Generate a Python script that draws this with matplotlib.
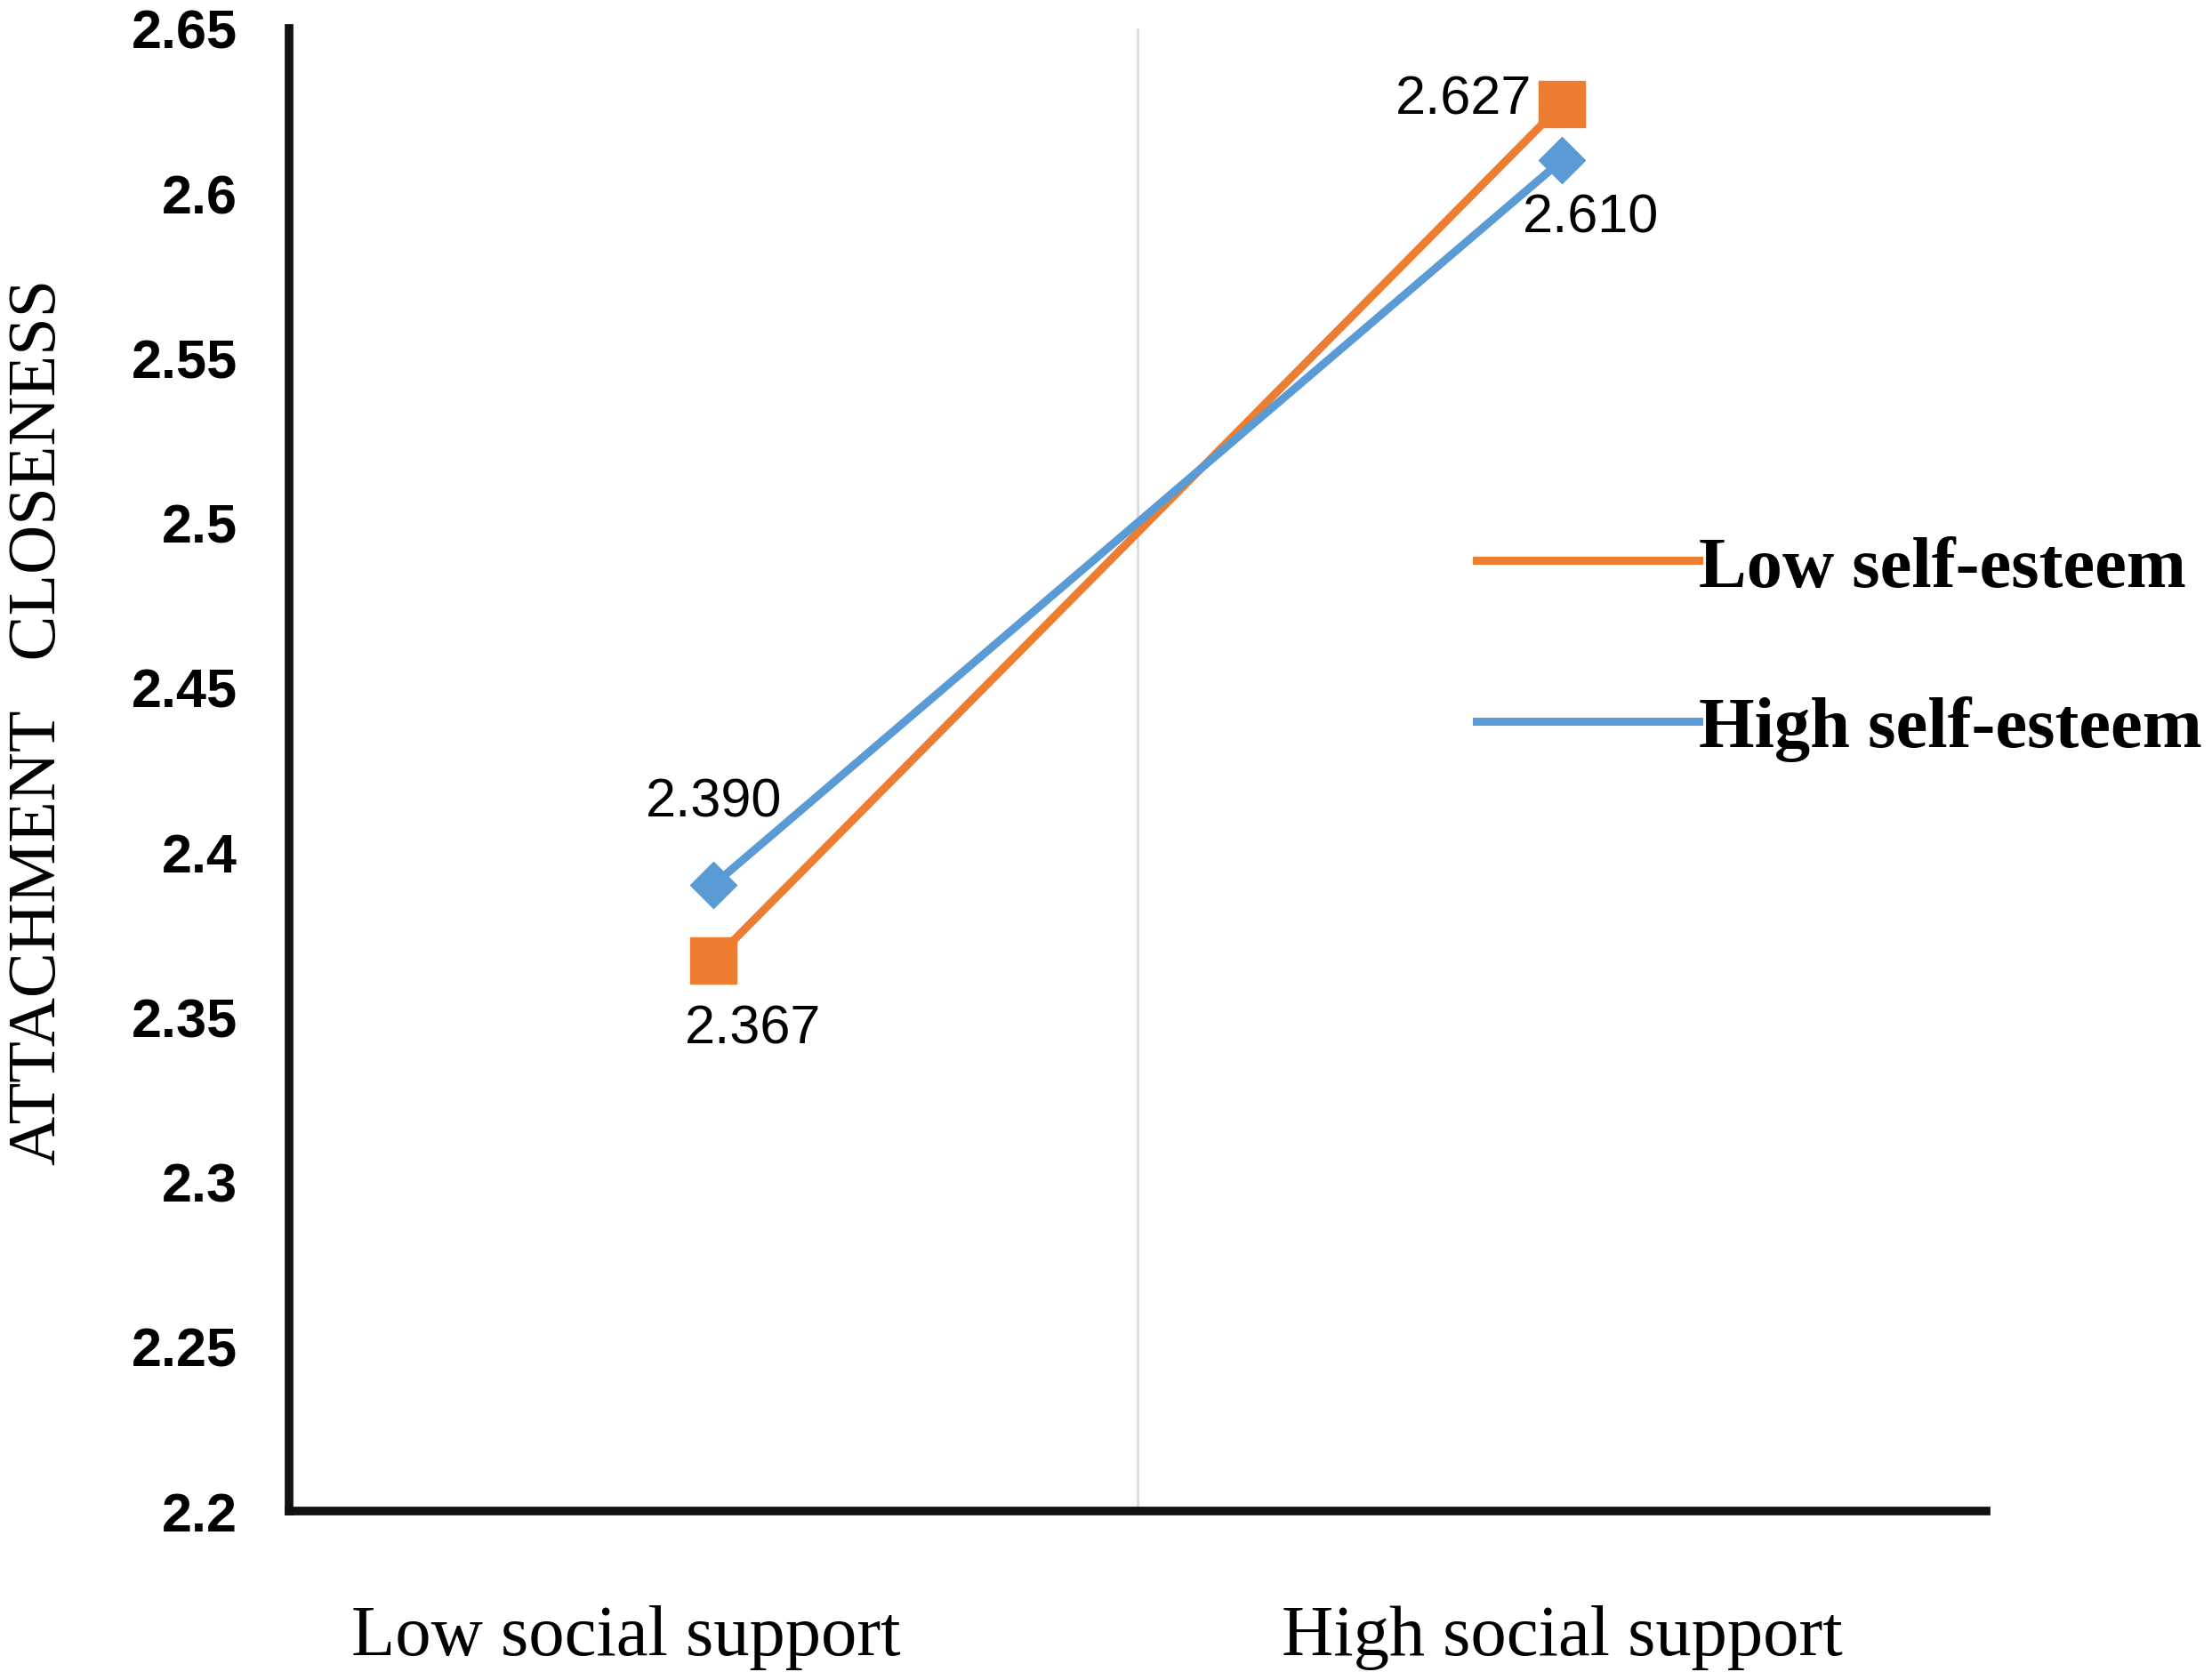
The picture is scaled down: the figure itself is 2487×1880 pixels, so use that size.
import matplotlib.pyplot as plt
from matplotlib.transforms import ScaledTranslation

# data
categories = ["Low social support", "High social support"]
low_se = [2.367, 2.627]
high_se = [2.390, 2.610]
yticks = [2.2, 2.25, 2.3, 2.35, 2.4, 2.45, 2.5, 2.55, 2.6, 2.65]
ytick_labels = ["2.2", "2.25", "2.3", "2.35", "2.4", "2.45", "2.5", "2.55", "2.6", "2.65"]

orange = "#ED7D31"
blue = "#5B9BD5"

fig = plt.figure(figsize=(24.87, 18.81), dpi=100)
ax = fig.add_axes([0.1307, 0.0963, 0.7673, 0.8862])

x = [0, 1]
ax.axvline(0.5, color="#D9D9D9", lw=2, zorder=0)
ax.plot(x, low_se, color=orange, lw=6.5, marker="s", ms=37, label="Low self-esteem", zorder=3)
ax.plot(x, high_se, color=blue, lw=6.5, marker="D", ms=26, label="High self-esteem", zorder=4)

# value labels
lab_font = dict(family="Liberation Sans", fontsize=44, color="black")
ax.annotate(f"{high_se[0]:.3f}", (x[0], high_se[0]), xytext=(0, 67), textcoords="offset points",
            ha="center", va="center", **lab_font)
ax.annotate(f"{low_se[0]:.3f}", (x[0], low_se[0]), xytext=(32, -55), textcoords="offset points",
            ha="center", va="center", **lab_font)
ax.annotate(f"{low_se[1]:.3f}", (x[1], low_se[1]), xytext=(-80, 4), textcoords="offset points",
            ha="center", va="center", **lab_font)
ax.annotate(f"{high_se[1]:.3f}", (x[1], high_se[1]), xytext=(23, -47), textcoords="offset points",
            ha="center", va="center", **lab_font)

ax.set_xlim(-0.5, 1.5)
ax.set_ylim(2.2, 2.65)
ax.set_yticks(yticks)
ax.set_yticklabels(ytick_labels, fontfamily="Liberation Sans", fontweight="bold", fontsize=44)
ax.set_xticks(x)
ax.set_xticklabels(categories, fontfamily="Liberation Serif", fontsize=58)
ax.tick_params(axis="y", length=0, pad=42)
ax.tick_params(axis="x", length=0, pad=76)
# first category label sits left of its point in the original
lbl0 = ax.get_xticklabels()[0]
lbl0.set_transform(lbl0.get_transform() + ScaledTranslation(-98 / 100, 0, fig.dpi_scale_trans))

for s in ["top", "right"]:
    ax.spines[s].set_visible(False)
ax.spines["left"].set_linewidth(7)
ax.spines["bottom"].set_linewidth(7)
ax.spines["left"].set_color("#111111")
ax.spines["bottom"].set_color("#111111")

fig.text(44 / 2487, 1 - 812 / 1881, "ATTACHMENT   CLOSENESS", rotation=90, ha="center", va="center",
         fontfamily="Liberation Serif", fontsize=55)

leg = ax.legend(loc="center left", bbox_to_anchor=(1660 / 2487, 1 - 730 / 1881),
                bbox_transform=fig.transFigure, frameon=False, handlelength=3.1,
                handletextpad=0.0, labelspacing=1.32, borderpad=0, borderaxespad=0,
                prop={"family": "Liberation Serif", "weight": "bold", "size": 58})
for h in leg.legend_handles:
    h.set_marker("")

fig.savefig("out.png", dpi=100)
